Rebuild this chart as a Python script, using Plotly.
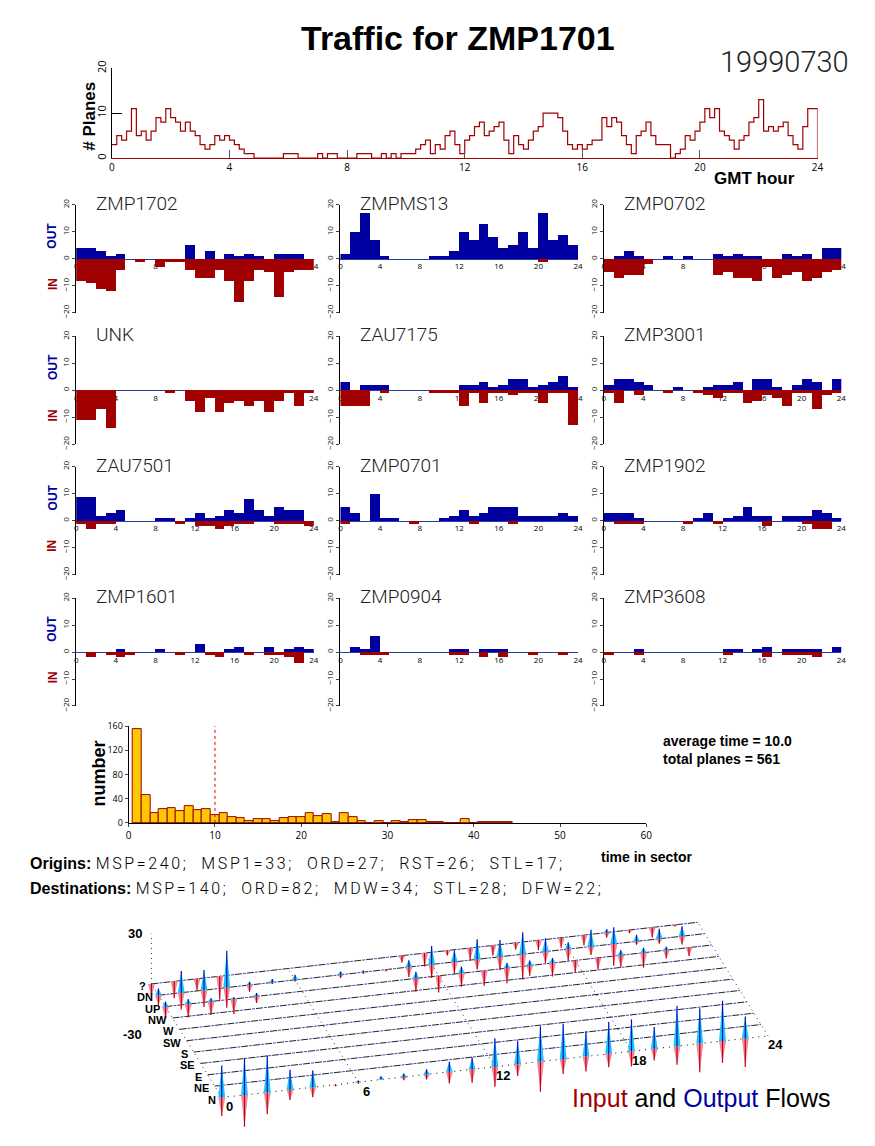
import plotly.graph_objects as go

W, H = 875, 1146


def fx(px):
    return px / W


def fy(py):
    return 1 - py / H


# ---------------- data ----------------
# planes in the sector, one value per 10 minutes (GMT)
planes = [
    3, 5, 4, 6, 11, 5,   6, 4, 6, 9, 8, 11,   9, 8, 6, 8, 6, 5,   3, 2, 3, 5, 4, 5,
    4, 3, 2, 1, 1, 0,    0, 0, 0, 0, 0, 1,    1, 1, 0, 0, 0, 0,   1, 0, 1, 1, 0, 0,
    0, 0, 1, 1, 1, 0,    0, 1, 0, 1, 0, 1,    1, 1, 2, 3, 4, 1,   3, 2, 5, 6, 3, 1,
    4, 5, 7, 8, 5, 6,    7, 8, 4, 1, 5, 3,    2, 4, 6, 7, 10, 10, 10, 9, 6, 3, 2, 3,
    2, 3, 4, 4, 9, 7,    9, 8, 5, 3, 1, 5,    6, 8, 5, 3, 3, 3,   0, 1, 2, 5, 4, 6,
    8, 11, 9, 11, 6, 5,  4, 2, 4, 5, 8, 9,    13, 6, 7, 6, 7, 8,  5, 3, 2, 7, 11, 11,
]
hour_ticks = [0, 4, 8, 12, 16, 20, 24]
hours = list(range(24))

sectors = ["ZMP1702", "ZMPMS13", "ZMP0702",
           "UNK", "ZAU7175", "ZMP3001",
           "ZAU7501", "ZMP0701", "ZMP1902",
           "ZMP1601", "ZMP0904", "ZMP3608"]

out_zmp1702 = [4, 4, 3, 1, 2, 0, 0, 0, 0, 0, 0, 5, 0, 3, 0, 2, 1, 2, 1, 0, 2, 2, 2, 0]
in_zmp1702 = [8, 9, 11, 12, 4, 0, 1, 0, 3, 1, 1, 4, 7, 7, 4, 8, 16, 8, 4, 5, 14, 5, 4, 4]
out_zmpms13 = [2, 10, 17, 7, 1, 0, 0, 0, 0, 1, 1, 3, 10, 7, 13, 8, 4, 5, 10, 4, 17, 7, 9, 5]
in_zmpms13 = [0, 0, 0, 0, 0, 0, 0, 0, 0, 0, 0, 0, 0, 0, 0, 0, 0, 0, 0, 0, 1, 0, 0, 0]
out_zmp0702 = [0, 1, 3, 1, 0, 0, 1, 0, 1, 0, 0, 2, 1, 2, 1, 1, 0, 0, 2, 1, 2, 0, 4, 4]
in_zmp0702 = [5, 7, 6, 6, 2, 0, 0, 0, 0, 0, 0, 6, 5, 7, 7, 8, 3, 7, 6, 5, 8, 7, 5, 4]
out_unk = [0, 0, 0, 0, 0, 0, 0, 0, 0, 0, 0, 0, 0, 0, 0, 0, 0, 0, 0, 0, 0, 0, 0, 0]
in_unk = [11, 11, 7, 14, 0, 0, 0, 0, 0, 1, 0, 4, 8, 3, 8, 5, 4, 6, 4, 8, 4, 1, 6, 1]
out_zau7175 = [3, 0, 2, 2, 2, 0, 0, 0, 0, 0, 0, 0, 2, 2, 3, 1, 2, 4, 4, 1, 2, 3, 5, 1]
in_zau7175 = [6, 6, 6, 0, 1, 0, 0, 0, 0, 1, 1, 1, 6, 1, 5, 1, 1, 2, 1, 1, 5, 1, 1, 13]
out_zmp3001 = [2, 4, 4, 3, 2, 0, 0, 1, 0, 0, 1, 2, 2, 3, 0, 4, 4, 1, 0, 2, 4, 3, 0, 4]
in_zmp3001 = [1, 5, 0, 2, 0, 0, 1, 0, 0, 1, 2, 3, 1, 1, 5, 4, 2, 3, 6, 1, 1, 7, 2, 1]
out_zau7501 = [9, 9, 2, 3, 4, 0, 0, 0, 1, 1, 0, 1, 3, 1, 2, 4, 3, 8, 4, 2, 5, 4, 4, 0]
in_zau7501 = [1, 3, 1, 1, 0, 0, 0, 0, 0, 0, 1, 0, 2, 2, 3, 2, 1, 1, 0, 0, 1, 1, 1, 2]
out_zmp0701 = [5, 3, 0, 10, 1, 1, 0, 0, 0, 0, 1, 2, 4, 2, 3, 5, 5, 5, 2, 2, 2, 2, 3, 2]
in_zmp0701 = [1, 0, 0, 0, 0, 0, 0, 1, 0, 0, 0, 0, 0, 1, 0, 0, 0, 1, 0, 0, 0, 0, 0, 0]
out_zmp1902 = [3, 3, 3, 1, 0, 0, 0, 0, 0, 1, 3, 0, 1, 2, 5, 2, 2, 0, 2, 2, 2, 4, 3, 1]
in_zmp1902 = [0, 1, 1, 1, 0, 0, 0, 0, 1, 0, 0, 1, 0, 0, 0, 0, 2, 0, 0, 0, 1, 3, 3, 0]
out_zmp1601 = [0, 0, 0, 0, 1, 0, 0, 0, 1, 0, 0, 0, 3, 0, 0, 1, 2, 0, 0, 2, 0, 1, 2, 1]
in_zmp1601 = [0, 2, 0, 1, 2, 1, 0, 0, 0, 0, 1, 0, 0, 1, 2, 0, 0, 1, 0, 1, 1, 2, 4, 0]
out_zmp0904 = [0, 2, 1, 6, 0, 0, 0, 0, 0, 0, 0, 1, 1, 0, 1, 1, 1, 0, 0, 0, 0, 0, 0, 0]
in_zmp0904 = [0, 0, 1, 1, 1, 0, 0, 0, 0, 0, 0, 1, 1, 0, 2, 0, 2, 0, 0, 1, 0, 0, 1, 0]
out_zmp3608 = [0, 0, 0, 1, 0, 0, 0, 0, 0, 0, 0, 0, 1, 1, 0, 1, 2, 0, 1, 1, 1, 1, 0, 2]
in_zmp3608 = [1, 0, 0, 1, 0, 0, 0, 0, 0, 0, 0, 0, 1, 0, 0, 0, 2, 0, 1, 1, 1, 2, 0, 0]

sector_out = [out_zmp1702, out_zmpms13, out_zmp0702, out_unk, out_zau7175, out_zmp3001,
              out_zau7501, out_zmp0701, out_zmp1902, out_zmp1601, out_zmp0904, out_zmp3608]
sector_in = [in_zmp1702, in_zmpms13, in_zmp0702, in_unk, in_zau7175, in_zmp3001,
             in_zau7501, in_zmp0701, in_zmp1902, in_zmp1601, in_zmp0904, in_zmp3608]

# time in sector histogram (minutes, bins centred on 1..44)
time_bins = list(range(1, 45))
time_counts = [155, 46, 17, 23, 24, 19, 27, 21, 22, 13, 17, 10, 8, 3, 6, 6, 3, 8, 10, 9,
               17, 11, 14, 1, 16, 10, 3, 0, 3, 0, 3, 1, 4, 4, 1, 1, 0, 0, 6, 0,
               1, 1, 1, 1]
average_time = 10.0
total_planes = 561

origins = "MSP=240;  MSP1=33;  ORD=27;  RST=26;  STL=17;"
destinations = "MSP=140;  ORD=82;  MDW=34;  STL=28;  DFW=22;"

# flows by direction per hour (front row first)
directions = ["N", "NE", "E", "SE", "S", "SW", "W", "NW", "UP", "DN", "?"]
quiet = [0, 0, 0, 0, 0, 0, 0, 0, 0, 0, 0, 0, 0, 0, 0, 0, 0, 0, 0, 0, 0, 0, 0, 0]
n_out = [19, 22, 22, 12, 10, 0, 1, 2, 2, 3, 6, 7, 17, 14, 21, 21, 15, 19, 19, 13, 24, 21, 24, 13]
n_in = [11, 19, 13, 6, 6, 1, 1, 0, 2, 3, 7, 8, 12, 7, 18, 9, 9, 8, 9, 7, 11, 17, 13, 17]
up_out = [3, 3, 2, 1, 2, 0, 0, 0, 0, 0, 0, 4, 0, 4, 0, 3, 3, 3, 0, 0, 3, 3, 2, 0]
up_in = [7, 8, 8, 9, 4, 0, 0, 0, 0, 0, 0, 8, 10, 8, 9, 9, 6, 8, 7, 7, 7, 9, 5, 5]
dn_out = [4, 13, 12, 22, 2, 2, 3, 0, 2, 1, 0, 4, 11, 7, 12, 10, 13, 8, 4, 10, 10, 4, 6, 6]
dn_in = [6, 10, 10, 12, 4, 1, 1, 0, 2, 1, 1, 6, 8, 7, 6, 8, 15, 7, 7, 5, 13, 2, 3, 5]
unk_out = [0, 0, 0, 0, 0, 0, 0, 0, 0, 0, 0, 0, 0, 0, 0, 0, 0, 0, 0, 0, 2, 0, 0, 0]
unk_in = [8, 10, 7, 14, 0, 0, 0, 0, 0, 0, 0, 4, 8, 3, 7, 6, 4, 6, 6, 6, 3, 2, 6, 1]
dir_out = [n_out, quiet, quiet, quiet, quiet, quiet, quiet, quiet, up_out, dn_out, unk_out]
dir_in = [n_in, quiet, quiet, quiet, quiet, quiet, quiet, quiet, up_in, dn_in, unk_in]
flow_ticks = [0, 6, 12, 18, 24]

# ---------------- styles ----------------
RED = "#a00000"
BLUE = "#0000a0"
BOLD = dict(family="Liberation Sans, Arial, sans-serif", color="black")
THIN = dict(family="Roboto Light, Roboto, Liberation Sans, sans-serif", color="#222", weight=300)

fig = go.Figure()
layout = {}
notes = []


def note(text, x, y, size, font=BOLD, xanchor="center", yanchor="middle", angle=0,
         color=None, **extra):
    f = dict(font, size=size)
    if color:
        f["color"] = color
    notes.append(dict(text=text, x=fx(x), y=fy(y), xref="paper", yref="paper",
                      showarrow=False, xanchor=xanchor, yanchor=yanchor,
                      textangle=angle, font=f, **extra))


# ---------------- top: planes in sector ----------------
fig.add_trace(go.Scatter(x=[i / 6 for i in range(len(planes) + 1)], y=planes + [0],
                         mode="lines", line=dict(color=RED, width=1.2, shape="hv"),
                         xaxis="x", yaxis="y", hoverinfo="skip"))
layout["xaxis"] = dict(domain=[fx(110), fx(823)], range=[0, 24], anchor="y",
                       tickvals=hour_ticks, ticks="inside", ticklen=8, tickcolor="#555",
                       showline=True, linecolor=RED, showgrid=False, zeroline=False,
                       tickfont=dict(size=10, color="black"))
layout["yaxis"] = dict(domain=[fy(152), fy(61)], range=[0, 20], anchor="x",
                       tickvals=[0, 10, 20], ticks="inside", ticklen=10, tickcolor="black",
                       tickangle=-90, showline=True, linecolor="black", showgrid=False,
                       zeroline=False, tickfont=dict(size=11, color="black"))
note("<b># Planes</b>", 88, 110, 17, angle=-90)
note("<b>GMT hour</b>", 759, 173, 17)
note("<b>Traffic for ZMP1701</b>", 460, 30, 34)
note("19990730", 790, 55, 29, font=THIN)

# ---------------- sector panels ----------------
col_x = [74, 341, 607]
row_base = [254, 387, 519, 652]
half = 54.6
for k, name in enumerate(sectors):
    r, c = divmod(k, 3)
    n = k + 2
    x0, base = col_x[c], row_base[r]
    xs = [h + 0.5 for h in hours]
    fig.add_trace(go.Bar(x=xs, y=sector_out[k], width=1, marker=dict(color=BLUE, line=dict(width=0)),
                         xaxis=f"x{n}", yaxis=f"y{n}", hoverinfo="skip"))
    fig.add_trace(go.Bar(x=xs, y=[-v for v in sector_in[k]], width=1,
                         marker=dict(color=RED, line=dict(width=0)),
                         xaxis=f"x{n}", yaxis=f"y{n}", hoverinfo="skip"))
    layout[f"xaxis{n}"] = dict(domain=[fx(x0), fx(x0 + 240)], range=[0, 24], anchor="free",
                               position=fy(base), tickvals=hour_ticks, ticks="",
                               showline=True, linecolor="#2a3aa8", linewidth=1,
                               showgrid=False, zeroline=False, layer="below traces",
                               tickfont=dict(size=8, color="black"))
    layout[f"yaxis{n}"] = dict(domain=[fy(base + half), fy(base - half)], range=[-20, 20],
                               anchor=f"x{n}", tickvals=[-20, -10, 0, 10, 20], ticks="outside",
                               ticklen=3, tickangle=-90, showline=True, linecolor="black",
                               showgrid=False, zeroline=False, tickfont=dict(size=8, color="black"))
    note(name, x0 + 18, base - 56, 19, font=THIN, xanchor="left")
    if c == 0:
        note("<b>OUT</b>", 50, base - 24, 12, angle=-90, color=BLUE)
        note("<b>IN</b>", 50, base + 25, 12, angle=-90, color=RED)

# ---------------- time in sector histogram ----------------
fig.add_trace(go.Bar(x=time_bins, y=time_counts, width=1,
                     marker=dict(color="#ffc800", line=dict(color=RED, width=1)),
                     xaxis="x14", yaxis="y14", hoverinfo="skip"))
fig.add_trace(go.Scatter(x=[average_time, average_time], y=[0, 160], mode="lines",
                         line=dict(color="#e00000", width=1, dash="dot"),
                         xaxis="x14", yaxis="y14", hoverinfo="skip"))
layout["xaxis14"] = dict(domain=[fx(127), fx(650)], range=[0, 60], anchor="y14", dtick=10,
                         ticks="outside", ticklen=3, showline=True, linecolor="black",
                         showgrid=False, zeroline=False, tickfont=dict(size=10, color="black"))
layout["yaxis14"] = dict(domain=[fy(825), fy(727)], range=[0, 160], anchor="x14",
                         tickvals=[0, 40, 80, 120, 160], ticks="outside", ticklen=3,
                         showline=True, linecolor="black", showgrid=False, zeroline=False,
                         tickfont=dict(size=9, color="black"))
note("<b>number</b>", 97, 775, 18, angle=-90)
note("<b>time in sector</b>", 651, 859, 14)
note(f"<b>average time = {average_time:.1f}</b>", 665, 742, 14, xanchor="left")
note(f"<b>total planes = {total_planes}</b>", 665, 760, 14, xanchor="left")
SPAN = "<span style='font-family:Roboto Light, Roboto;font-weight:300;letter-spacing:2.6px'>"
note("<b>Origins:</b> " + SPAN + origins + "</span>", 25, 866, 16, xanchor="left")
note("<b>Destinations:</b> " + SPAN + destinations + "</span>", 25, 891, 16, xanchor="left")

# ---------------- flows by direction (oblique view) ----------------
BX0, BY0 = 221.0, 1103.0
HX, HY = 23.0, -2.6
RX, RY = -7.1, -11.5
VZ = -1.7
HW = 3.5


def proj(h, r, v=0.0):
    return BX0 + HX * h + RX * r, BY0 + HY * h + RY * r + VZ * v


def seg_trace(pts, color, width=1, dash=None, fill=None, fillcolor=None):
    xs, ys = [], []
    for group in pts:
        for p in group:
            xs.append(p[0])
            ys.append(p[1])
        xs.append(None)
        ys.append(None)
    line = dict(color=color, width=width)
    if dash:
        line["dash"] = dash
    kw = dict(x=xs, y=ys, mode="lines", line=line, xaxis="x15", yaxis="y15", hoverinfo="skip")
    if fill:
        kw.update(fill=fill, fillcolor=fillcolor)
    fig.add_trace(go.Scatter(**kw))


grid = [[proj(h, 0), proj(h, 10)] for h in flow_ticks]
seg_trace(grid, "#333", 1, dash="1px,4px")
seg_trace([[proj(0, 10, 0), proj(0, 10, 30)]], "#333", 1, dash="1px,4px")
seg_trace([[proj(0, 0), proj(24, 0)]], "black", 1, dash="1px,5px")
rows = [[proj(0, r), proj(24, r)] for r in range(1, len(directions))]
seg_trace(rows, "#3a4ad0", 1, dash="0px,8px,3px,1px")
seg_trace(rows, "#222", 1, dash="7px,5px")

in_fill, in_line, out_fill, out_line = [], [], [], []
for r in range(len(directions) - 1, -1, -1):
    for h in hours:
        bx, by = proj(h, r)
        vi, vo = dir_in[r][h], dir_out[r][h]
        if vi:
            tx, ty = proj(h, r, -vi)
            in_fill.append([(bx - HW, by), (bx + HW, by), (tx, ty), (bx - HW, by)])
            in_line.append([(bx, by), (tx, ty)])
        if vo:
            tx, ty = proj(h, r, vo)
            out_fill.append([(bx - HW, by), (bx + HW, by), (tx, ty), (bx - HW, by)])
            out_line.append([(bx, by), (tx, ty)])
seg_trace(in_fill, "rgba(0,0,0,0)", 0, fill="toself", fillcolor="#f2899c")
seg_trace(in_line, "#c00010", 1.2)
seg_trace(out_fill, "rgba(0,0,0,0)", 0, fill="toself", fillcolor="#22c4f4")
seg_trace(out_line, "#0010c0", 1.2)

layout["xaxis15"] = dict(domain=[fx(100), fx(800)], range=[100, 800], anchor="y15", visible=False)
layout["yaxis15"] = dict(domain=[fy(1146), fy(905)], range=[1146, 905], anchor="x15", visible=False)

for r, d in enumerate(directions):
    x, y = proj(0, r)
    note(f"<b>{d}</b>", x - 5, y + 2, 11, xanchor="right", height=10, borderpad=0)
for v in (30, -30):
    x, y = proj(0, 10, v)
    note(f"<b>{v}</b>", x - 8, y, 13, xanchor="right")
for h in flow_ticks:
    x, y = proj(h, 0)
    note(f"<b>{h}</b>", x + 8, y + 9, 13)
note(f"<span style='color:{RED}'>Input</span> and <span style='color:{BLUE}'>Output</span> Flows",
     706, 1103, 25, font=dict(family="Liberation Sans, Arial, sans-serif", color="black"))

fig.update_layout(width=W, height=H, margin=dict(l=0, r=0, t=0, b=0),
                  paper_bgcolor="white", plot_bgcolor="rgba(0,0,0,0)",
                  showlegend=False, barmode="overlay", bargap=0,
                  annotations=notes, **layout)

fig.write_html("out.html", config={"displayModeBar": False},
               post_script="document.body.style.margin='0';")
